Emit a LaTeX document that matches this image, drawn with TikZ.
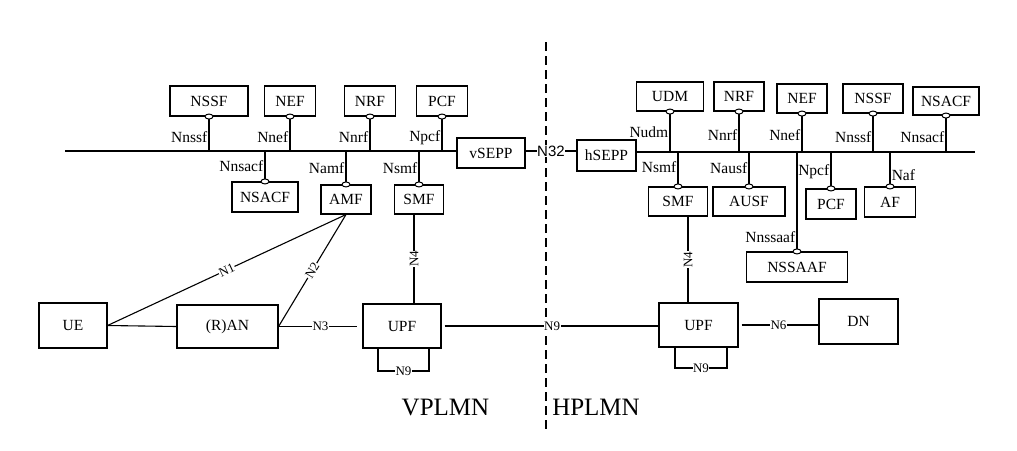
\documentclass[tikz,border=0pt]{standalone}
\usepackage{fontspec}
\setmainfont{Liberation Serif}
\newfontfamily\nsansfont{Liberation Sans}
\usepackage{tikz}
\usetikzlibrary{positioning,shapes.geometric}

\begin{document}
\begin{tikzpicture}[x=1pt,y=-1pt,
    nf/.style={rectangle,draw=black,line width=1.1pt,minimum height=30pt,inner sep=0pt,font=\fontsize{15.5}{15.5}\selectfont},
    link/.style={line width=1.1pt},
    ifdot/.style={ellipse,draw=black,fill=white,line width=1pt,minimum width=8pt,minimum height=5pt,inner sep=0pt},
    iflabel/.style={font=\fontsize{15.5}{15.5}\selectfont,inner sep=1.2pt},
    reflabel/.style={font=\fontsize{13}{13}\selectfont,fill=white,inner sep=0.5pt},
    plmn/.style={font=\fontsize{25}{25}\selectfont}]
    \useasboundingbox (0,0) rectangle (1017,450);

    % border between the two networks
    \coordinate (bordertop) at (546,42);
    \coordinate (borderbot) at (546,430);
    \draw[line width=1.1pt,dash pattern=on 9pt off 5pt] (bordertop) -- (borderbot);

    % VPLMN side
    \node (nssfv) [nf,minimum width=78pt] at (209,101) {NSSF};
    \node (nefv) [nf,minimum width=51pt] at (290,101) {NEF};
    \node (nrfv) [nf,minimum width=51pt] at (370,101) {NRF};
    \node (pcfv) [nf,minimum width=51pt] at (442,101) {PCF};
    \node (nsacfv) [nf,minimum width=66pt] at (265,197) {NSACF};
    \node (amf) [nf,minimum width=50pt,minimum height=29pt] at (346,199.5) {AMF};
    \node (smfv) [nf,minimum width=49pt,minimum height=29pt] at (419,199.5) {SMF};
    \node (vsepp) [nf,minimum width=68pt] at (491,153) {vSEPP};

    % HPLMN side
    \node (hsepp) [nf,minimum width=59pt,minimum height=31pt] at (606.5,155.5) {hSEPP};
    \node (udm) [nf,minimum width=67pt,minimum height=29pt] at (670,96.5) {UDM};
    \node (nrfh) [nf,minimum width=50pt,minimum height=29pt] at (739,96.5) {NRF};
    \node (nefh) [nf,minimum width=50pt,minimum height=29pt] at (802,98.5) {NEF};
    \node (nssfh) [nf,minimum width=60pt,minimum height=29pt] at (873,98.5) {NSSF};
    \node (nsacfh) [nf,minimum width=66pt,minimum height=28pt] at (946,101) {NSACF};
    \node (smfh) [nf,minimum width=59pt,minimum height=29pt] at (678,201.5) {SMF};
    \node (ausf) [nf,minimum width=72pt,minimum height=29pt] at (749,201.5) {AUSF};
    \node (pcfh) [nf,minimum width=50pt] at (831,204) {PCF};
    \node (af) [nf,minimum width=51pt] at (890,202) {AF};
    \node (nssaaf) [nf,minimum width=101pt] at (797,267) {NSSAAF};

    % user plane
    \node (ue) [nf,minimum width=68pt,minimum height=45pt] at (73,325.5) {UE};
    \node (ran) [nf,minimum width=101pt,minimum height=43pt] at (227.5,326.5) {(R)AN};
    \node (upfv) [nf,minimum width=78pt,minimum height=44pt] at (402,326) {UPF};
    \node (upfh) [nf,minimum width=79pt,minimum height=44pt] at (698.5,325) {UPF};
    \node (dn) [nf,minimum width=79pt,minimum height=45pt] at (858.5,321.5) {DN};

    \node (vplmn) [plmn] at (445.5,407) {VPLMN};
    \node (hplmn) [plmn] at (596,407) {HPLMN};

    % service buses
    \coordinate (vbusw) at (65,151);
    \coordinate (hbuse) at (975,152);
    \draw[link] (vbusw) -- (vbusw -| vsepp.west);
    \draw[link] (hsepp.east |- hbuse) -- (hbuse);
    \draw[link] (vsepp.east |- vbusw) -- node[fill=white,inner sep=0.5pt,font=\nsansfont\fontsize{15}{15}\selectfont] {N32} (hsepp.west |- vbusw);

    % service interfaces, VPLMN
    \draw[link] (nssfv.south |- vbusw) -- node[iflabel,left,pos=0.4] {Nnssf} (nssfv.south) node[ifdot] {};
    \draw[link] (nefv.south |- vbusw) -- node[iflabel,left,pos=0.4] {Nnef} (nefv.south) node[ifdot] {};
    \draw[link] (nrfv.south |- vbusw) -- node[iflabel,left,pos=0.4] {Nnrf} (nrfv.south) node[ifdot] {};
    \draw[link] (pcfv.south |- vbusw) -- node[iflabel,left,pos=0.4] {Npcf} (pcfv.south) node[ifdot] {};
    \draw[link] (nsacfv.north |- vbusw) -- node[iflabel,left] {Nnsacf} (nsacfv.north) node[ifdot] {};
    \draw[link] (amf.north |- vbusw) -- node[iflabel,left] {Namf} (amf.north) node[ifdot] {};
    \draw[link] (smfv.north |- vbusw) -- node[iflabel,left] {Nsmf} (smfv.north) node[ifdot] {};

    % service interfaces, HPLMN
    \draw[link] (udm.south |- hbuse) -- node[iflabel,left,pos=0.48] {Nudm} (udm.south) node[ifdot] {};
    \draw[link] (nrfh.south |- hbuse) -- node[iflabel,left,pos=0.42] {Nnrf} (nrfh.south) node[ifdot] {};
    \draw[link] (nefh.south |- hbuse) -- node[iflabel,left,pos=0.45] {Nnef} (nefh.south) node[ifdot] {};
    \draw[link] (nssfh.south |- hbuse) -- node[iflabel,left,pos=0.4] {Nnssf} (nssfh.south) node[ifdot] {};
    \draw[link] (nsacfh.south |- hbuse) -- node[iflabel,left,pos=0.4] {Nnsacf} (nsacfh.south) node[ifdot] {};
    \draw[link] (smfh.north |- hbuse) -- node[iflabel,left,pos=0.45] {Nsmf} (smfh.north) node[ifdot] {};
    \draw[link] (ausf.north |- hbuse) -- node[iflabel,left,pos=0.46] {Nausf} (ausf.north) node[ifdot] {};
    \draw[link] (pcfh.north |- hbuse) -- node[iflabel,left,pos=0.54] {Npcf} (pcfh.north) node[ifdot] {};
    \draw[link] (af.north |- hbuse) -- node[iflabel,right,pos=0.66] {Naf} (af.north) node[ifdot] {};
    \draw[link] (nssaaf.north |- hbuse) -- node[iflabel,left,pos=0.86] {Nnssaaf} (nssaaf.north) node[ifdot] {};

    % reference points
    \draw[link] (ue.east) -- (ran.west);
    \draw[link] (ue.east) -- node[reflabel,sloped] {N1} (amf.south);
    \draw[link] (ran.east) -- node[reflabel,sloped] {N2} (amf.south);
    \draw[link,shorten >=5pt] (ran.east) -- node[reflabel] {N3} (ran.east -| upfv.west);

    \coordinate (n4v) at (414,260);
    \coordinate (n4h) at (688,260);
    \draw[link] (smfv.south -| n4v) -- node[reflabel,rotate=90] {N4} (upfv.north -| n4v);
    \draw[link] (smfh.south -| n4h) -- node[reflabel,rotate=90] {N4} (upfh.north -| n4h);

    \draw[link,shorten <=3pt] (upfv.east) -- node[reflabel,pos=0.51] {N9} (upfv.east -| upfh.west);
    \draw[link,shorten <=3pt] (upfh.east) -- node[reflabel] {N6} (upfh.east -| dn.west);

    \coordinate (n9va) at (378,371);
    \coordinate (n9vb) at (429,371);
    \draw[link] (upfv.south -| n9va) -- (n9va) -- node[reflabel] {N9} (n9vb) -- (upfv.south -| n9vb);
    \coordinate (n9ha) at (675,368);
    \coordinate (n9hb) at (727,368);
    \draw[link] (upfh.south -| n9ha) -- (n9ha) -- node[reflabel] {N9} (n9hb) -- (upfh.south -| n9hb);

\end{tikzpicture}
\end{document}
